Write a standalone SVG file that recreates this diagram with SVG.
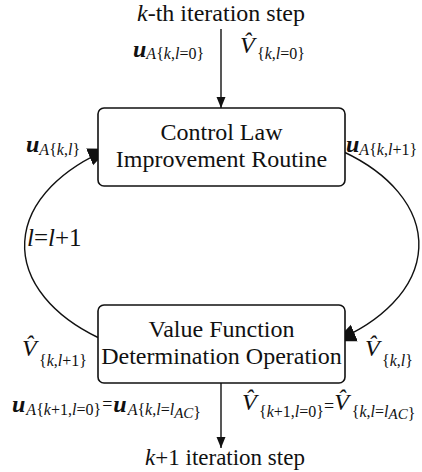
<svg xmlns="http://www.w3.org/2000/svg" width="422" height="472" viewBox="0 0 422 472">
<style>
text{font-family:"Liberation Serif","Times New Roman",serif;fill:#111}
.t{font-size:24px}
.c{text-anchor:middle}
.i{font-style:italic}
.bu{font-style:italic;font-weight:bold;font-size:24px}
.v{font-style:italic;font-size:24px}
.s{font-size:16px}
.ss{font-size:15px}
.box{fill:#fff;stroke:#111;stroke-width:1.6}
.ln{fill:none;stroke:#111;stroke-width:1.4}
</style>
<defs>
<marker id="sa" markerUnits="userSpaceOnUse" markerWidth="12" markerHeight="10" refX="11" refY="4.5" orient="auto"><path d="M0,0 L11,4.5 L0,9 z" fill="#111"/></marker>
<marker id="ba" markerUnits="userSpaceOnUse" markerWidth="24" markerHeight="20" refX="21" refY="9" orient="auto"><path d="M0,0 L21,9 L0,18 z" fill="#111"/></marker>
</defs>
<g id="connectors">
<line class="ln" x1="221" y1="29" x2="221" y2="108" marker-end="url(#sa)"/>
<line class="ln" x1="221" y1="383" x2="221" y2="448" marker-end="url(#sa)"/>
<path class="ln" d="M98 337.5 A197 118 0 0 1 109 148.8" marker-end="url(#ba)"/>
<path class="ln" d="M344 152 A197 118 0 0 1 335 341.2" marker-end="url(#ba)"/>
</g>
<g id="top-label"><text class="t c" x="221" y="21"><tspan class="i">k</tspan>-th iteration step</text></g>
<g id="bottom-label"><text class="c" style="font-size:23px" x="225" y="465"><tspan class="i">k</tspan>+1 iteration step</text></g>
<g id="control-law">
<rect class="box" x="98" y="108" width="247" height="78" rx="6"/>
<text class="t c" x="221.5" y="140">Control Law</text>
<text class="t c" x="221.5" y="167">Improvement Routine</text>
</g>
<g id="value-function">
<rect class="box" x="98" y="305" width="247" height="78" rx="6"/>
<text class="t c" x="221.5" y="337">Value Function</text>
<text class="t c" x="221.5" y="364">Determination Operation</text>
</g>
<g id="labels">
<text y="57"><tspan class="bu" x="133">u</tspan><tspan class="s" y="59"><tspan class="i">A</tspan>{<tspan class="i">k</tspan>,<tspan class="i">l</tspan>=0}</tspan></text>
<text y="53"><tspan class="v" x="240">V&#x302;</tspan><tspan class="s" x="257" y="59">{<tspan class="i">k</tspan>,<tspan class="i">l</tspan>=0}</tspan></text>
<text y="152"><tspan class="bu" x="26">u</tspan><tspan class="s" y="155"><tspan class="i">A</tspan>{<tspan class="i">k</tspan>,<tspan class="i">l</tspan>}</tspan></text>
<text y="152"><tspan class="bu" x="346">u</tspan><tspan class="s" y="155"><tspan class="i">A</tspan>{<tspan class="i">k</tspan>,<tspan class="i">l</tspan>+1}</tspan></text>
<text style="font-size:25px" x="27" y="246"><tspan class="i">l</tspan>=<tspan class="i">l</tspan>+1</text>
<text y="356"><tspan class="v" x="22">V&#x302;</tspan><tspan class="s" x="39" y="366">{<tspan class="i">k</tspan>,<tspan class="i">l</tspan>+1}</tspan></text>
<text y="356"><tspan class="v" x="365">V&#x302;</tspan><tspan class="s" x="382" y="366">{<tspan class="i">k</tspan>,<tspan class="i">l</tspan>}</tspan></text>
<text y="412"><tspan class="bu" x="12">u</tspan><tspan class="s" y="415" dx="1"><tspan class="i">A</tspan>{<tspan class="i">k</tspan>+1,<tspan class="i">l</tspan>=0}</tspan><tspan style="font-size:18px" y="410" dx="1">=</tspan><tspan class="bu" y="412" dx="1">u</tspan><tspan class="s" y="415" dx="1"><tspan class="i">A</tspan>{<tspan class="i">k</tspan>,<tspan class="i">l</tspan>=<tspan class="i">l</tspan><tspan class="ss i" y="418">AC</tspan>}</tspan></text>
<text y="410"><tspan class="v" x="242">V&#x302;</tspan><tspan class="s" x="259" y="417">{<tspan class="i">k</tspan>+1,<tspan class="i">l</tspan>=0}</tspan><tspan style="font-size:18px" y="412">=</tspan><tspan class="v" y="410">V&#x302;</tspan><tspan class="s" y="417" dx="3">{<tspan class="i">k</tspan>,<tspan class="i">l</tspan>=<tspan class="i">l</tspan><tspan class="ss i" y="419">AC</tspan>}</tspan></text>
</g>
</svg>
